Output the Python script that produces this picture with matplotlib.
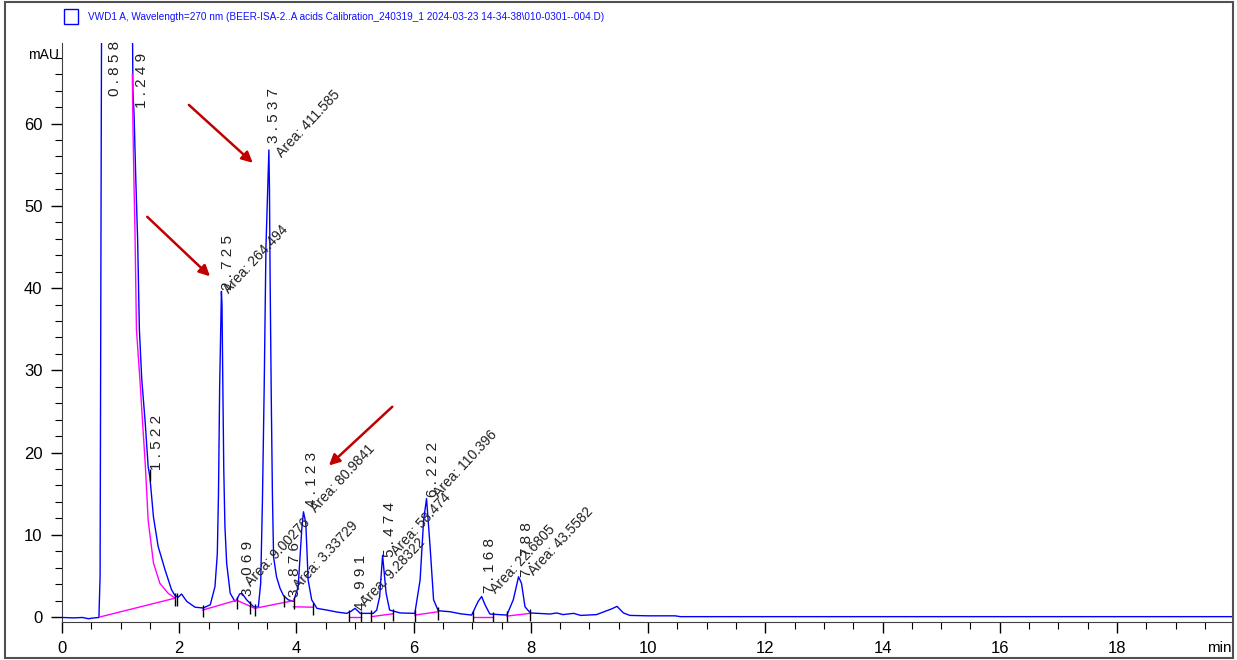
import numpy as np
import matplotlib.pyplot as plt
from matplotlib.patches import Rectangle
from matplotlib.ticker import MultipleLocator
from matplotlib import font_manager

# detector trace, VWD1 A 270 nm (time in min, signal in mAU)
t_min = [0.00, 0.20, 0.35, 0.45, 0.55, 0.63, 0.65, 0.67, 0.70, 0.90, 1.10, 1.18, 1.195,
         1.21, 1.23, 1.26, 1.29, 1.32, 1.36, 1.42, 1.47, 1.50, 1.56, 1.64, 1.76, 1.87,
         1.93, 1.98, 2.04, 2.13, 2.27, 2.41, 2.53, 2.61, 2.65, 2.67, 2.69, 2.72, 2.73,
         2.74, 2.76, 2.78, 2.81, 2.87, 2.95, 2.98, 3.03, 3.07, 3.15, 3.27, 3.35, 3.39,
         3.42, 3.45, 3.48, 3.53, 3.54, 3.55, 3.57, 3.59, 3.61, 3.66, 3.72, 3.78, 3.86,
         3.95, 4.03, 4.09, 4.12, 4.16, 4.20, 4.26, 4.35, 4.52, 4.70, 4.86, 4.93, 5.00,
         5.09, 5.31, 5.37, 5.42, 5.47, 5.53, 5.59, 5.77, 6.02, 6.11, 6.17, 6.22, 6.28,
         6.34, 6.42, 6.62, 6.80, 6.99, 7.10, 7.16, 7.22, 7.30, 7.59, 7.70, 7.79, 7.84,
         7.90, 7.99, 8.33, 8.44, 8.55, 8.73, 8.85, 9.12, 9.38, 9.47, 9.58, 9.69, 10.00,
         10.46, 10.55, 20.00]
signal = [-0.05, -0.10, -0.05, -0.20, -0.10, -0.05, 5.0, 60.0, 130.0, 160.0, 150.0, 110.0, 80.0,
          64.0, 61.0, 53.0, 46.0, 35.0, 29.0, 23.6, 18.3, 17.0, 12.2, 8.6, 5.7, 3.3,
          2.6, 2.4, 2.8, 1.9, 1.2, 1.1, 1.5, 3.7, 7.7, 15.0, 28.0, 39.6, 38.0,
          31.0, 18.0, 11.0, 6.5, 2.9, 1.9, 2.1, 2.8, 2.9, 2.1, 1.25, 1.2, 4.1,
          14.2, 28.0, 45.0, 56.8, 52.0, 42.0, 27.0, 15.0, 7.3, 4.9, 3.5, 2.6, 2.1,
          1.9, 3.7, 10.6, 12.8, 11.4, 4.5, 2.1, 1.06, 0.85, 0.6, 0.45, 0.7, 1.06,
          0.45, 0.45, 0.85, 2.5, 7.5, 2.9, 0.85, 0.5, 0.45, 4.5, 11.8, 14.4, 8.6,
          2.1, 0.77, 0.65, 0.4, 0.24, 1.9, 2.5, 1.46, 0.37, 0.24, 2.1, 4.9, 4.1,
          1.25, 0.5, 0.37, 0.5, 0.3, 0.45, 0.2, 0.3, 1.0, 1.3, 0.5, 0.2, 0.15,
          0.15, 0.05, 0.05]

# tangent skim under the solvent front tail
skim_t = [1.20, 1.21, 1.23, 1.245, 1.27, 1.33, 1.38, 1.42, 1.47, 1.56, 1.67, 1.81, 1.93]
skim_y = [66.0, 60.0, 52.0, 47.0, 35.0, 28.8, 23.1, 18.7, 11.8, 6.6, 4.1, 2.9, 2.3]

# integration baselines
base_segments = [
    ([0.64, 1.93], [0.0, 2.3]),
    ([2.40, 2.98, 3.29, 3.95], [0.85, 2.05, 1.06, 2.0]),
    ([3.95, 4.29], [1.25, 1.2]),
    ([4.89, 5.11], [0.0, 0.0]),
    ([5.28, 5.65], [0.05, 0.4]),
    ([6.02, 6.42], [0.24, 0.65]),
    ([7.02, 7.36], [0.05, 0.05]),
    ([7.59, 7.99], [0.12, 0.45]),
]

# peak start / end event marks
event_t = [1.50, 1.93, 1.96, 2.40, 2.98, 3.20, 3.29, 3.78, 3.95, 4.29, 4.89, 5.11,
           5.28, 5.65, 6.02, 6.42, 7.02, 7.36, 7.59, 7.99]
event_y = [17.5, 2.4, 2.4, 1.0, 2.0, 1.4, 1.1, 2.2, 2.0, 1.2, 0.3, 0.2,
           0.3, 0.5, 0.4, 0.7, 0.2, 0.1, 0.2, 0.5]

# retention time labels (position of label foot)
rt_text = ["0.858", "1.249", "1.522", "2.725", "3.069", "3.876", "3.537", "4.123",
           "4.991", "5.474", "6.222", "7.168", "7.788"]
rt_x = [0.91, 1.37, 1.62, 2.84, 3.18, 3.97, 3.62, 4.26, 5.10, 5.60, 6.33, 7.30, 7.94]
rt_y = [63.3, 61.9, 17.9, 39.8, 2.6, 2.4, 57.7, 13.4, 0.9, 7.3, 14.6, 2.9, 4.9]

# area labels (start of text)
area_text = ["Area: 264.494", "Area: 411.585", "Area: 9.00276", "Area: 3.33729",
             "Area: 80.9841", "Area: 9.28322", "Area: 58.474", "Area: 110.396",
             "Area: 22.6805", "Area: 43.5582"]
area_x = [2.89, 3.79, 3.26, 4.08, 4.37, 5.22, 5.76, 6.47, 7.44, 8.09]
area_y = [39.0, 55.6, 3.4, 3.0, 12.4, 1.0, 7.2, 14.2, 2.6, 4.8]

# red call-out arrows: (tail, head)
arrows = [((2.13, 62.5), (3.29, 55.0)),
          ((1.42, 48.9), (2.56, 41.2)),
          ((5.67, 25.8), (4.52, 18.2))]

title = ("VWD1 A, Wavelength=270 nm (BEER-ISA-2..A acids Calibration_240319_1 "
         "2024-03-23 14-34-38\\010-0301--004.D)")

names = {f.name for f in font_manager.fontManager.ttflist}
narrow = "Liberation Sans Narrow" if "Liberation Sans Narrow" in names else "Liberation Sans"
plt.rcParams["font.family"] = [narrow, "DejaVu Sans"]


def spaced(s):
    return " ".join(s)


fig = plt.figure(figsize=(12.37, 6.6), dpi=100)
ax = fig.add_axes([62 / 1237, 1 - 622 / 660, (1233 - 62) / 1237, (622 - 43) / 660])

ax.plot(t_min, signal, color="#0000ff", lw=1.0, zorder=3)
ax.plot(skim_t, skim_y, color="#ff00ff", lw=1.0, zorder=4)
for bt, by in base_segments:
    ax.plot(bt, by, color="#ff00ff", lw=1.0, zorder=4)
ax.vlines(event_t, np.array(event_y) - 1.0, np.array(event_y) + 0.5,
          color="black", lw=1.0, zorder=5)

for s, x, y in zip(rt_text, rt_x, rt_y):
    ax.text(x, y, spaced(s), rotation=90, ha="center", va="bottom",
            fontsize=11, color="#202020", zorder=6)
for s, x, y in zip(area_text, area_x, area_y):
    ax.text(x, y, s, rotation=47, rotation_mode="anchor", ha="left", va="bottom",
            fontsize=10, color="#202020", zorder=6)

for (x0, y0), (x1, y1) in arrows:
    ax.annotate("", xy=(x1, y1), xytext=(x0, y0),
                arrowprops=dict(arrowstyle="-|>", color="#c00000", lw=1.8,
                                mutation_scale=16), zorder=7)

ax.set_xlim(0, 19.98)
ax.set_ylim(-0.6, 69.8)
ax.xaxis.set_major_locator(MultipleLocator(2))
ax.xaxis.set_minor_locator(MultipleLocator(0.5))
ax.yaxis.set_major_locator(MultipleLocator(10))
ax.yaxis.set_minor_locator(MultipleLocator(2))
ax.tick_params(which="major", length=8, width=1.0, direction="out", labelsize=12, pad=6)
ax.tick_params(which="minor", length=5, width=0.8, direction="out")
ax.spines["top"].set_visible(False)
ax.spines["right"].set_visible(False)
for sp in ("left", "bottom"):
    ax.spines[sp].set_color("#404040")

fig.text(44 / 1237, 1 - 55 / 660, "mAU", ha="center", va="center", fontsize=10)
fig.text(1232 / 1237, 1 - 648 / 660, "min", ha="right", va="center", fontsize=11)

# legend entry above the plot
fig.patches.append(Rectangle((64 / 1237, 1 - 24 / 660), 14 / 1237, 15 / 660,
                             transform=fig.transFigure, fill=False,
                             edgecolor="#0000ff", lw=1.0))
fig.text(88 / 1237, 1 - 17 / 660, title, ha="left", va="center",
         fontsize=7.2, color="#1010ff")

# outer frame
fig.patches.append(Rectangle((5 / 1237, 2 / 660), 1228 / 1237, 656 / 660,
                             transform=fig.transFigure, fill=False,
                             edgecolor="#505050", lw=1.5))

fig.savefig("out.png", dpi=100)
